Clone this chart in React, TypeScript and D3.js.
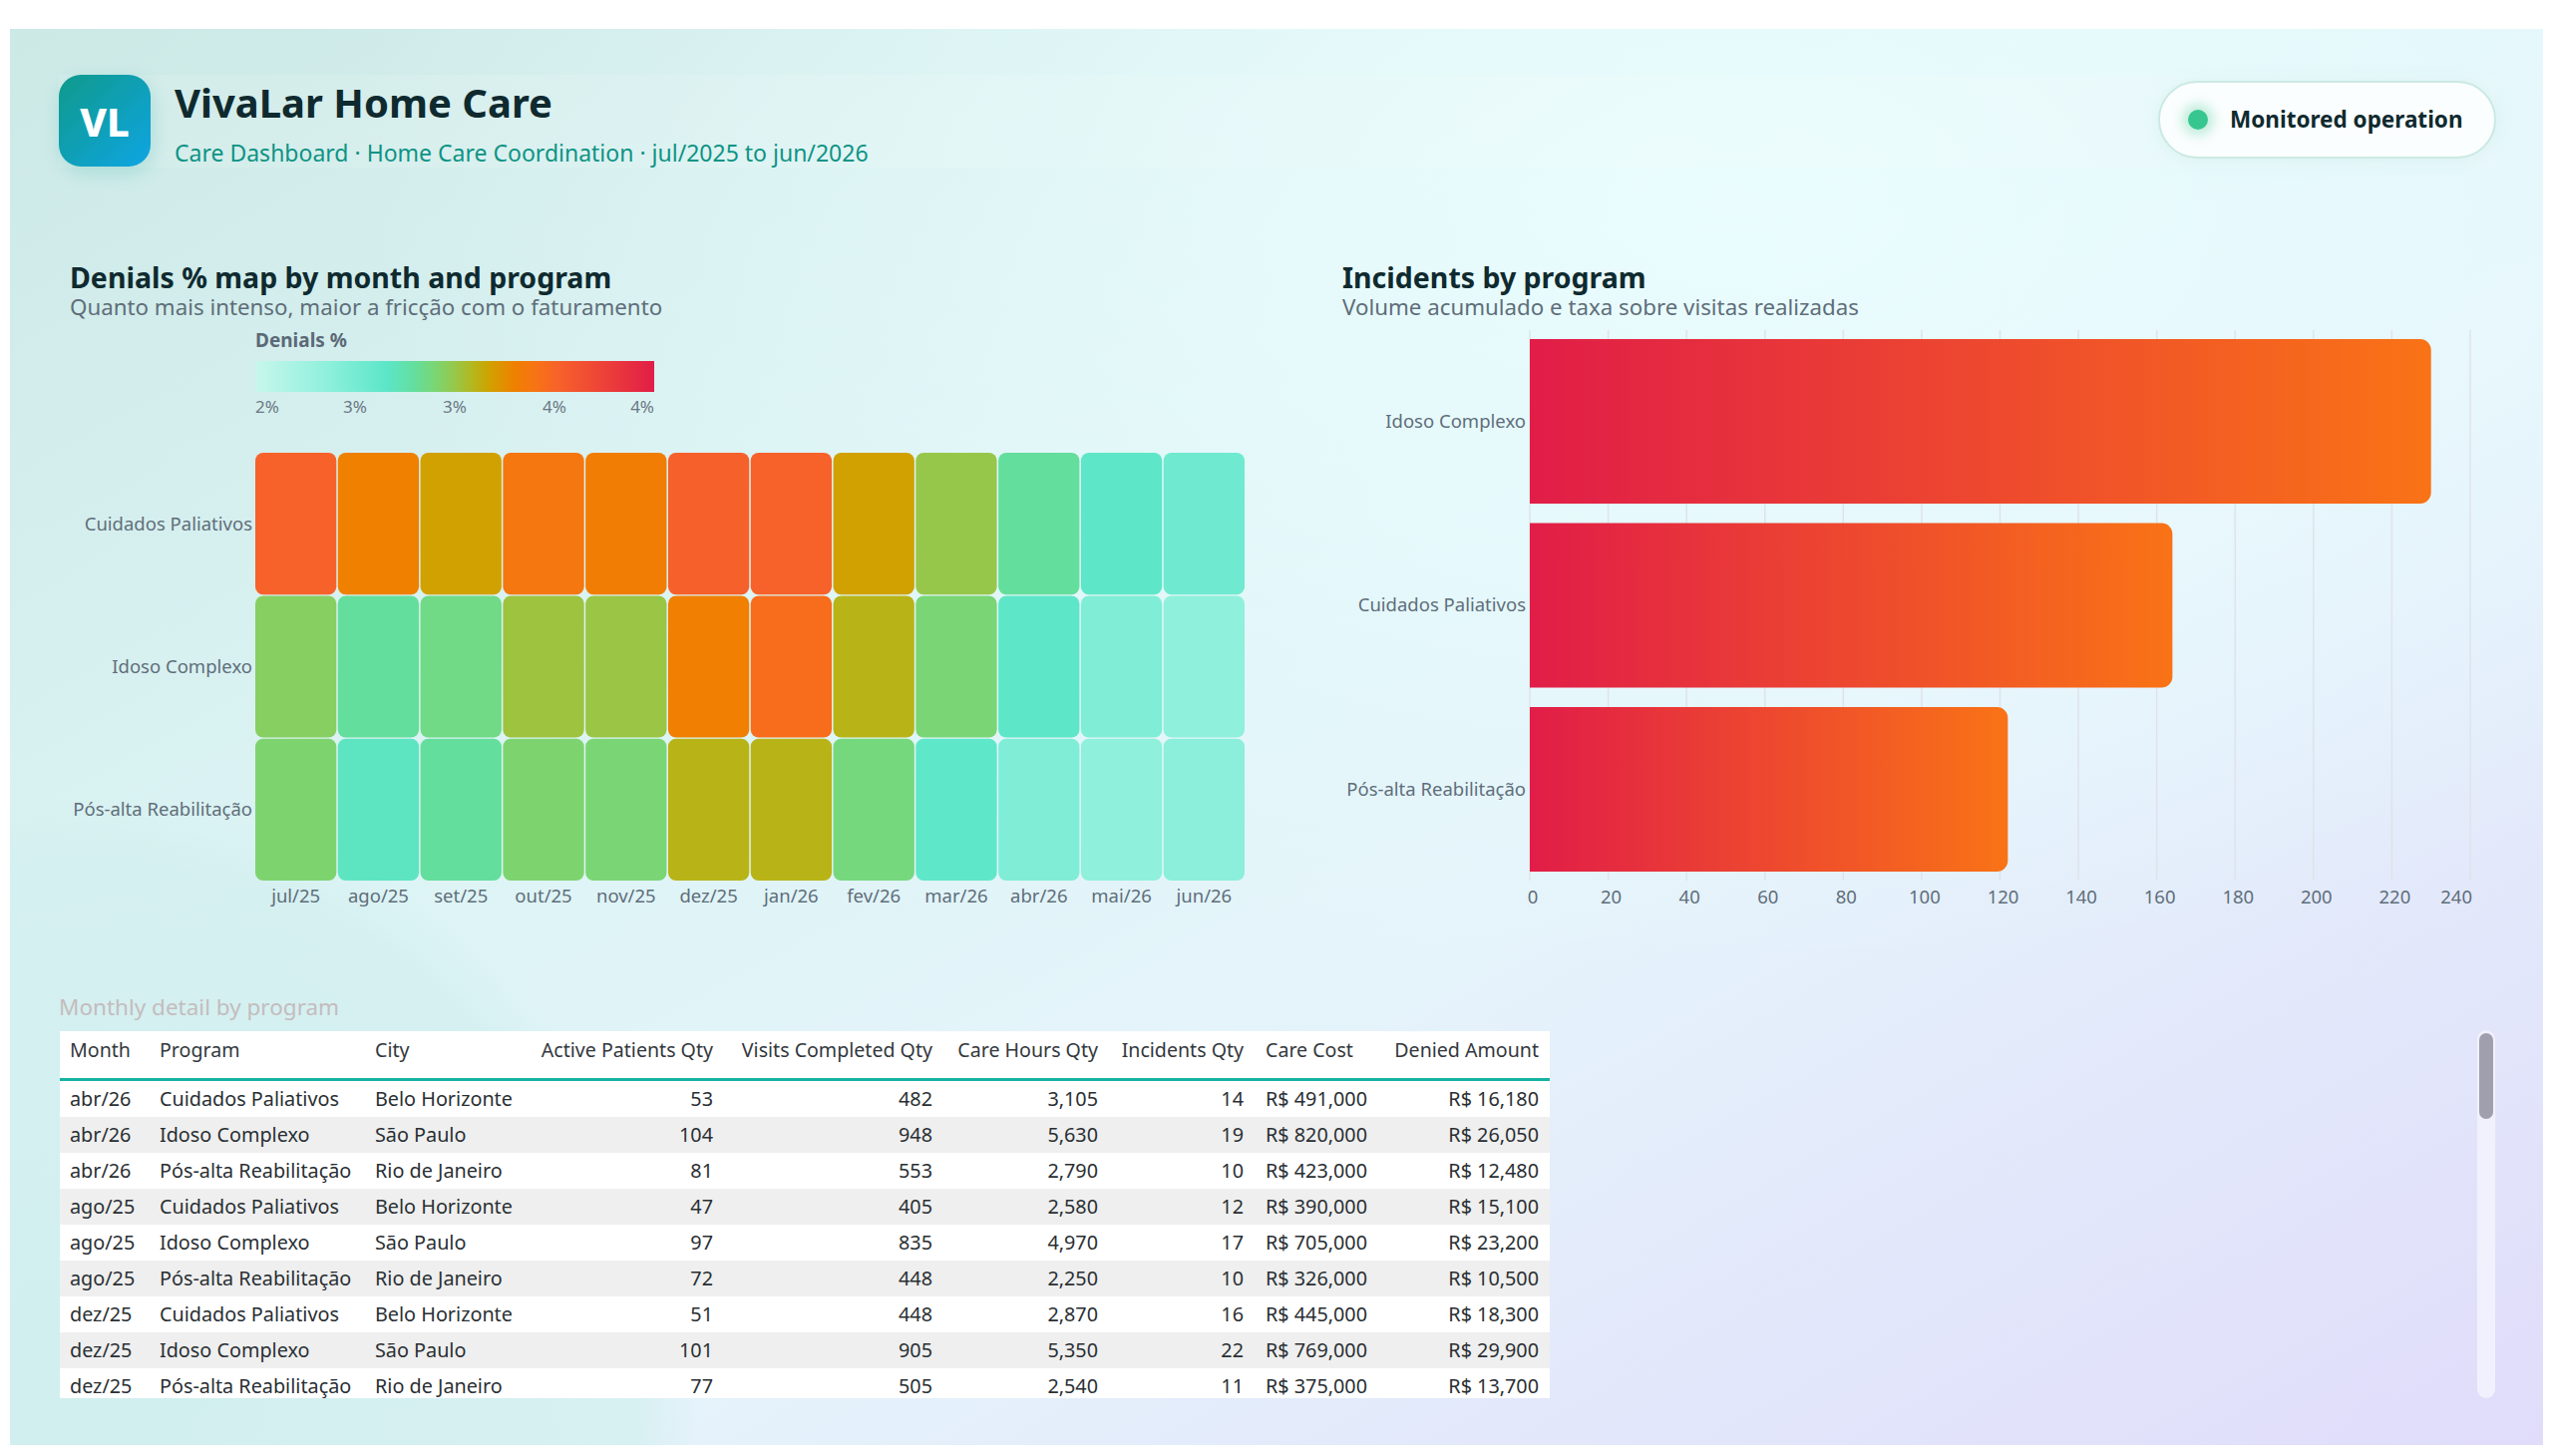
import React from 'react';
import * as d3 from 'd3';

// Heatmap data: denials % per program, jul/25 .. jun/26
const months = ['jul/25', 'ago/25', 'set/25', 'out/25', 'nov/25', 'dez/25', 'jan/26', 'fev/26', 'mar/26', 'abr/26', 'mai/26', 'jun/26'];
const programs = ['Cuidados Paliativos', 'Idoso Complexo', 'Pós-alta Reabilitação'];
const denialsPaliativos = [3.67, 3.47, 3.36, 3.54, 3.49, 3.68, 3.67, 3.36, 3.2, 3.02, 2.89, 2.79];
const denialsIdoso = [3.15, 3.02, 3.07, 3.22, 3.21, 3.48, 3.6, 3.29, 3.11, 2.89, 2.7, 2.62];
const denialsPosAlta = [3.12, 2.91, 3.02, 3.12, 3.11, 3.29, 3.29, 3.09, 2.88, 2.7, 2.62, 2.64];
const denialsRange = [2.3, 4.1];
const legendTicks = [2.3, 2.75, 3.2, 3.65, 4.1];
const colorOffsets = [0, 0.18, 0.33, 0.4, 0.45, 0.5, 0.55, 0.59, 0.65, 0.7, 0.76, 1];
const colorStops = ['#c8f7ec', '#8ef0dc', '#5ce6c8', '#64de9c', '#7ad674', '#97c74a', '#b8b418', '#d2a000', '#ef8000', '#f77414', '#f7622a', '#e11d48'];

// Incidents bar chart
const incidentPrograms = ['Idoso Complexo', 'Cuidados Paliativos', 'Pós-alta Reabilitação'];
const incidentTotals = [230, 164, 122];
const incidentTicks = [0, 20, 40, 60, 80, 100, 120, 140, 160, 180, 200, 220, 240];

// Detail table
const tableMonths = ['abr/26', 'abr/26', 'abr/26', 'ago/25', 'ago/25', 'ago/25', 'dez/25', 'dez/25', 'dez/25'];
const tablePrograms = ['Cuidados Paliativos', 'Idoso Complexo', 'Pós-alta Reabilitação', 'Cuidados Paliativos', 'Idoso Complexo', 'Pós-alta Reabilitação', 'Cuidados Paliativos', 'Idoso Complexo', 'Pós-alta Reabilitação'];
const tableCities = ['Belo Horizonte', 'São Paulo', 'Rio de Janeiro', 'Belo Horizonte', 'São Paulo', 'Rio de Janeiro', 'Belo Horizonte', 'São Paulo', 'Rio de Janeiro'];
const activePatients = [53, 104, 81, 47, 97, 72, 51, 101, 77];
const visitsCompleted = [482, 948, 553, 405, 835, 448, 448, 905, 505];
const careHours = [3105, 5630, 2790, 2580, 4970, 2250, 2870, 5350, 2540];
const incidentsQty = [14, 19, 10, 12, 17, 10, 16, 22, 11];
const careCost = [491000, 820000, 423000, 390000, 705000, 326000, 445000, 769000, 375000];
const deniedAmount = [16180, 26050, 12480, 15100, 23200, 10500, 18300, 29900, 13700];

const FONT = "'Segoe UI', 'Noto Sans', sans-serif";
const DARK = '#0f2a2f';
const MUTED = '#5f6e7a';

const num = d3.format(',');
const brl = (v: number) => 'R$ ' + d3.format(',')(v);

function rightRoundedBar(x0: number, x1: number, y: number, h: number, r: number) {
  const rr = Math.min(r, (x1 - x0) / 2, h / 2);
  return `M${x0},${y}H${x1 - rr}A${rr},${rr} 0 0 1 ${x1},${y + rr}V${y + h - rr}A${rr},${rr} 0 0 1 ${x1 - rr},${y + h}H${x0}Z`;
}

function Heatmap() {
  const rows = [denialsPaliativos, denialsIdoso, denialsPosAlta];
  const x = d3.scaleBand().domain(months).range([256, 1248]).paddingInner(0.018);
  const y = d3.scaleBand().domain(programs).range([454, 883]).paddingInner(0.008);
  const color = d3
    .scaleLinear<string>()
    .domain(colorOffsets.map((t) => denialsRange[0] + t * (denialsRange[1] - denialsRange[0])))
    .range(colorStops)
    .interpolate(d3.interpolateRgb)
    .clamp(true);
  const legendX = d3.scaleLinear().domain(denialsRange).range([256, 656]);
  const pct = (v: number) => d3.format('.0f')(v) + '%';

  return (
    <g fontFamily={FONT}>
      <text x={70} y={289} fontSize={28.5} fontWeight={700} fill={DARK}>Denials % map by month and program</text>
      <text x={70} y={316} fontSize={22.3} fill={MUTED}>Quanto mais intenso, maior a fricção com o faturamento</text>

      <text x={256} y={348} fontSize={19} fontWeight={700} fill="#5b6977">Denials %</text>
      <rect x={256} y={362} width={400} height={31} fill="url(#legendGrad)" />
      {legendTicks.map((t, i) => (
        <text
          key={i}
          x={legendX(t)}
          y={414}
          fontSize={17}
          fill="#6b7884"
          textAnchor={i === 0 ? 'start' : i === legendTicks.length - 1 ? 'end' : 'middle'}
        >
          {pct(t)}
        </text>
      ))}

      {programs.map((p, r) =>
        months.map((m, c) => (
          <rect
            key={p + m}
            x={x(m)}
            y={y(p)}
            width={x.bandwidth()}
            height={y.bandwidth()}
            rx={8}
            fill={color(rows[r][c])}
          />
        ))
      )}
      {programs.map((p) => (
        <text key={p} x={253} y={(y(p) as number) + y.bandwidth() / 2} dy="0.35em" textAnchor="end" fontSize={18.5} fill={MUTED}>
          {p}
        </text>
      ))}
      {months.map((m) => (
        <text key={m} x={(x(m) as number) + x.bandwidth() / 2} y={905} textAnchor="middle" fontSize={18.5} fill={MUTED}>
          {m}
        </text>
      ))}
    </g>
  );
}

function IncidentBars() {
  const x = d3.scaleLinear().domain([0, 240]).range([1534, 2477]);
  const y = d3.scaleBand().domain(incidentPrograms).range([331, 883]).paddingInner(0.106).paddingOuter(0.049);
  const last = incidentTicks.length - 1;
  return (
    <g fontFamily={FONT}>
      <text x={1346} y={289} fontSize={28.5} fontWeight={700} fill={DARK}>Incidents by program</text>
      <text x={1346} y={316} fontSize={22.3} fill={MUTED}>Volume acumulado e taxa sobre visitas realizadas</text>
      {incidentTicks.map((t) => (
        <line key={t} x1={x(t)} x2={x(t)} y1={331} y2={883} stroke="#dfe3ea" strokeWidth={1.5} />
      ))}
      {incidentPrograms.map((p, i) => (
        <path
          key={p}
          d={rightRoundedBar(x(0), x(incidentTotals[i]), y(p) as number, y.bandwidth(), 11)}
          fill="url(#barGrad)"
        />
      ))}
      {incidentPrograms.map((p) => (
        <text key={p} x={1530} y={(y(p) as number) + y.bandwidth() / 2} dy="0.35em" textAnchor="end" fontSize={18.5} fill={MUTED}>
          {p}
        </text>
      ))}
      {incidentTicks.map((t, i) => (
        <text
          key={t}
          x={i === last ? x(t) + 2 : x(t) + 3}
          y={906}
          textAnchor={i === last ? 'end' : 'middle'}
          fontSize={18.5}
          fill={MUTED}
        >
          {t}
        </text>
      ))}
    </g>
  );
}

type Column = { header: string; x: number; anchor: 'start' | 'end'; values: string[] };

function DetailTable() {
  const columns: Column[] = [
    { header: 'Month', x: 70, anchor: 'start', values: tableMonths },
    { header: 'Program', x: 160, anchor: 'start', values: tablePrograms },
    { header: 'City', x: 376, anchor: 'start', values: tableCities },
    { header: 'Active Patients Qty', x: 715, anchor: 'end', values: activePatients.map(num) },
    { header: 'Visits Completed Qty', x: 935, anchor: 'end', values: visitsCompleted.map(num) },
    { header: 'Care Hours Qty', x: 1101, anchor: 'end', values: careHours.map(num) },
    { header: 'Incidents Qty', x: 1247, anchor: 'end', values: incidentsQty.map(num) },
    { header: 'Care Cost', x: 1269, anchor: 'start', values: careCost.map(brl) },
    { header: 'Denied Amount', x: 1543, anchor: 'end', values: deniedAmount.map(brl) },
  ];
  const rowY = d3.scaleBand<number>().domain(d3.range(tableMonths.length)).range([1084, 1084 + 36 * tableMonths.length]);

  return (
    <g fontFamily={FONT}>
      <text x={59} y={1018} fontSize={22.5} fill="#c4bcbe">Monthly detail by program</text>
      <defs>
        <clipPath id="tableClip">
          <rect x={60} y={1034} width={1494} height={368} />
        </clipPath>
      </defs>
      <g clipPath="url(#tableClip)">
        <rect x={60} y={1034} width={1494} height={50} fill="#ffffff" />
        {tableMonths.map((_, i) => (
          <rect key={i} x={60} y={rowY(i)} width={1494} height={rowY.bandwidth()} fill={i % 2 === 0 ? '#ffffff' : '#efefef'} />
        ))}
        <rect x={60} y={1081} width={1494} height={3} fill="#14b3a4" />
        {columns.map((c) => (
          <text key={c.header} x={c.x} y={1060} textAnchor={c.anchor} fontSize={19.6} fill="#33383d">
            {c.header}
          </text>
        ))}
        {columns.map((c) =>
          c.values.map((v, i) => (
            <text
              key={c.header + i}
              x={c.x}
              y={(rowY(i) as number) + rowY.bandwidth() / 2}
              dy="0.35em"
              textAnchor={c.anchor}
              fontSize={19.8}
              fill="#2a2f33"
            >
              {v}
            </text>
          ))
        )}
      </g>
      {/* scroll track */}
      <rect x={2484} y={1033} width={18} height={369} rx={9} fill="#f1f1fd" />
      <rect x={2486} y={1036} width={14} height={86} rx={7} fill="#a09fad" />
    </g>
  );
}

export default function App() {
  return (
    <svg width={2544} height={1444} style={{ display: 'block' }}>
      <defs>
        <linearGradient id="bgBase" x1="0" y1="0" x2="1" y2="1">
          <stop offset="0" stopColor="#cce9e6" />
          <stop offset="0.38" stopColor="#ddf4f5" />
          <stop offset="0.6" stopColor="#e5f4fb" />
          <stop offset="1" stopColor="#e0dcfa" />
        </linearGradient>
        <radialGradient id="bgCyan" cx="0.68" cy="0.12" r="0.55">
          <stop offset="0" stopColor="#ebfdfe" stopOpacity="0.95" />
          <stop offset="1" stopColor="#ebfdfe" stopOpacity="0" />
        </radialGradient>
        <radialGradient id="bgBlob" cx="0.5" cy="0.5" r="0.5">
          <stop offset="0" stopColor="#cfeeee" stopOpacity="0.9" />
          <stop offset="0.9" stopColor="#d3efef" stopOpacity="0.75" />
          <stop offset="1" stopColor="#d3efef" stopOpacity="0" />
        </radialGradient>
        <linearGradient id="legendGrad" x1="0" x2="1" y1="0" y2="0">
          {colorOffsets.map((o, i) => (
            <stop key={i} offset={o} stopColor={colorStops[i]} />
          ))}
        </linearGradient>
        <linearGradient id="barGrad" x1="0" x2="1" y1="0" y2="0">
          <stop offset="0" stopColor="#e11d48" />
          <stop offset="1" stopColor="#f97316" />
        </linearGradient>
        <linearGradient id="logoGrad" x1="0" y1="0" x2="1" y2="1">
          <stop offset="0" stopColor="#0f9a8a" />
          <stop offset="1" stopColor="#0ea5e4" />
        </linearGradient>
        <filter id="softShadow" x="-30%" y="-30%" width="160%" height="160%">
          <feGaussianBlur stdDeviation="10" />
        </filter>
        <filter id="glow" x="-100%" y="-100%" width="300%" height="300%">
          <feGaussianBlur stdDeviation="6" />
        </filter>
        <clipPath id="pageClip">
          <rect x={10} y={29} width={2540} height={1420} />
        </clipPath>
      </defs>
      <g transform="translate(-8,-8)">
        <g clipPath="url(#pageClip)">
          <rect x={10} y={29} width={2540} height={1420} fill="url(#bgBase)" />
          <rect x={10} y={29} width={2540} height={1420} fill="url(#bgCyan)" />
          <circle cx={80} cy={1420} r={620} fill="url(#bgBlob)" />
        </g>

        {/* header */}
        <rect x={59} y={75} width={2443} height={93} fill="#ffffff" opacity={0.12} />
        <rect x={62} y={82} width={90} height={90} rx={22} fill="#0f9a8a" opacity={0.22} filter="url(#softShadow)" />
        <rect x={59} y={75} width={92} height={92} rx={22} fill="url(#logoGrad)" />
        <text x={105} y={137} textAnchor="middle" fontFamily={FONT} fontSize={40} fontWeight={800} fill="#ffffff">VL</text>
        <text x={175} y={118} fontFamily={FONT} fontSize={40} fontWeight={700} fill={DARK}>VivaLar Home Care</text>
        <text x={175} y={162} fontFamily={FONT} fontSize={23} fill="#0e9384">Care Dashboard · Home Care Coordination · jul/2025 to jun/2026</text>

        <rect x={2165} y={84} width={337} height={76} rx={38} fill="#9fd8cf" opacity={0.25} filter="url(#softShadow)" />
        <rect x={2165} y={82} width={337} height={76} rx={38} fill="#fbfefe" stroke="#cbe9e3" strokeWidth={2} />
        <circle cx={2204} cy={120} r={16} fill="#34c48f" opacity={0.3} filter="url(#glow)" />
        <circle cx={2204} cy={120} r={10} fill="#38c690" />
        <text x={2236} y={128} fontFamily={FONT} fontSize={22.5} fontWeight={700} fill={DARK}>Monitored operation</text>

        <Heatmap />
        <IncidentBars />
        <DetailTable />
      </g>
    </svg>
  );
}
